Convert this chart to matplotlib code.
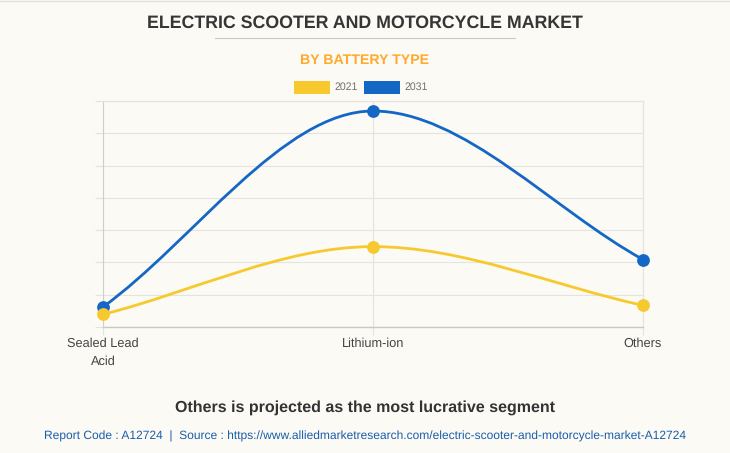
import matplotlib
matplotlib.use("Agg")
import matplotlib.pyplot as plt
from matplotlib.patches import PathPatch, Rectangle
from matplotlib.path import Path

categories = ["Sealed Lead\nAcid", "Lithium-ion", "Others"]
years = ["2021", "2031"]
values_2021 = [0.39, 2.49, 0.67]
values_2031 = [0.62, 6.69, 2.09]
y_ticks = [0, 1, 2, 3, 4, 5, 6, 7]

W, H = 730, 453
BG = "#FBFAF5"
YELLOW = "#F7C92F"
BLUE = "#1467C4"
L, R, T, B = 103, 643, 101, 327

plt.rcParams["font.family"] = ["Liberation Sans", "DejaVu Sans"]
plt.rcParams["text.hinting"] = "no_hinting"


def monotone_path(ys):
    # monotone cubic through the points, flat at the peak
    deltas = [b - a for a, b in zip(ys, ys[1:])]
    slopes = [deltas[0]]
    for d0, d1 in zip(deltas, deltas[1:]):
        slopes.append(0 if d0 * d1 <= 0 else (d0 + d1) / 2)
    slopes.append(deltas[-1])
    verts = [(0, ys[0])]
    codes = [Path.MOVETO]
    for i in range(1, len(ys)):
        verts += [
            (i - 1 + 1 / 3, ys[i - 1] + slopes[i - 1] / 3),
            (i - 1 / 3, ys[i] - slopes[i] / 3),
            (i, ys[i]),
        ]
        codes += [Path.CURVE4] * 3
    return Path(verts, codes)


fig = plt.figure(figsize=(W / 100, H / 100), dpi=100, facecolor=BG)
ax = fig.add_axes([L / W, 1 - B / H, (R - L) / W, (B - T) / H], facecolor=BG)
ax.set_xlim(0, len(categories) - 1)
ax.set_ylim(y_ticks[0], y_ticks[-1])

for vals, col in [(values_2031, BLUE), (values_2021, YELLOW)]:
    ax.add_patch(PathPatch(monotone_path(vals), fill=False, edgecolor=col, lw=2.0, zorder=3, clip_on=False))
    ax.plot(range(len(vals)), vals, "o", color=col, ms=9.2, mew=0, zorder=4, clip_on=False)

ax.set_xticks(range(len(categories)))
ax.set_xticklabels(categories, fontsize=9.2, color="#444444", linespacing=1.7)
ax.set_yticks(y_ticks)
ax.set_yticklabels([])
ax.grid(True, color="#E4E3DF", lw=0.8)
ax.set_axisbelow(True)
ax.tick_params(axis="x", length=5.8, color="#E4E3DF", width=0.8, pad=1.5)
ax.tick_params(axis="y", length=5.8, color="#E4E3DF", width=0.8)
for side in ["top", "right"]:
    ax.spines[side].set_color("#E4E3DF")
    ax.spines[side].set_linewidth(0.8)
ax.spines["bottom"].set_color("#C8C8C4")
ax.spines["left"].set_color("#CFCFCB")
ax.spines["bottom"].set_linewidth(1.0)
ax.spines["left"].set_linewidth(0.8)


def px(x, y):
    return x / W, 1 - y / H


# legend
fig.add_artist(Rectangle(px(294, 94), 36 / W, 13 / H, transform=fig.transFigure, facecolor=YELLOW, edgecolor="none"))
fig.add_artist(Rectangle(px(364, 94), 36 / W, 13 / H, transform=fig.transFigure, facecolor=BLUE, edgecolor="none"))
fig.text(*px(334, 87), years[0], fontsize=7.6, color="#707070", va="center")
fig.text(*px(404, 87), years[1], fontsize=7.6, color="#707070", va="center")

# header and footer
fig.text(*px(365, 23), "ELECTRIC SCOOTER AND MOTORCYCLE MARKET", fontsize=12.75, fontweight="bold", color="#363636", ha="center", va="center")
fig.add_artist(plt.Line2D([215 / W, 515 / W], [1 - 37.5 / H] * 2, color="#C9C9C5", lw=0.8))
fig.text(*px(365, 60), "BY BATTERY TYPE", fontsize=10.2, fontweight="bold", color="#FFAA2A", ha="center", va="center")
fig.text(*px(365, 408), "Others is projected as the most lucrative segment", fontsize=11.55, fontweight="bold", color="#333333", ha="center", va="center")
fig.text(*px(365, 436), "Report Code : A12724  |  Source : https://www.alliedmarketresearch.com/electric-scooter-and-motorcycle-market-A12724",
         fontsize=8.68, color="#1A5DAB", ha="center", va="center")
fig.add_artist(plt.Line2D([0, 1], [1 - 0.5 / H] * 2, color="#E0E0E0", lw=1))

fig.savefig("out.png", dpi=100, facecolor=BG)
